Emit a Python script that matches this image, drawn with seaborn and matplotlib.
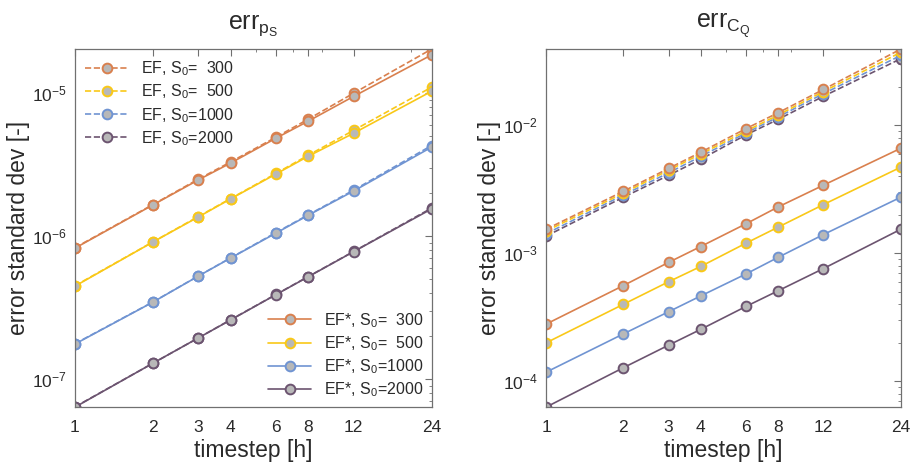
import matplotlib
matplotlib.use("Agg")
import matplotlib.pyplot as plt
from matplotlib.ticker import LogLocator, NullFormatter, FixedLocator, FixedFormatter
import numpy as np
import pandas as pd
import seaborn as sns

timesteps = [1, 2, 3, 4, 6, 8, 12, 24]
s0_values = [300, 500, 1000, 2000]
colors = ['#D9804E', '#F9C818', '#7094D2', '#6C5470']

# err_pS, rows are S0 = 300, 500, 1000, 2000
ps_ef = [
    [8.3e-7, 1.66e-6, 2.50e-6, 3.30e-6, 4.92e-6, 6.58e-6, 1.00e-5, 2.03e-5],
    [4.50e-7, 9.10e-7, 1.37e-6, 1.83e-6, 2.75e-6, 3.68e-6, 5.50e-6, 1.10e-5],
    [1.77e-7, 3.46e-7, 5.26e-7, 7.04e-7, 1.06e-6, 1.41e-6, 2.10e-6, 4.30e-6],
    [6.40e-8, 1.29e-7, 1.94e-7, 2.60e-7, 3.91e-7, 5.22e-7, 7.82e-7, 1.57e-6],
]
ps_efstar = [
    [8.24e-7, 1.65e-6, 2.47e-6, 3.24e-6, 4.84e-6, 6.37e-6, 9.50e-6, 1.85e-5],
    [4.47e-7, 9.08e-7, 1.36e-6, 1.82e-6, 2.72e-6, 3.62e-6, 5.25e-6, 1.03e-5],
    [1.76e-7, 3.45e-7, 5.25e-7, 7.02e-7, 1.05e-6, 1.40e-6, 2.07e-6, 4.19e-6],
    [6.37e-8, 1.29e-7, 1.94e-7, 2.59e-7, 3.90e-7, 5.20e-7, 7.80e-7, 1.55e-6],
]

# err_CQ
cq_ef = [
    [1.54e-3, 3.05e-3, 4.60e-3, 6.15e-3, 9.40e-3, 1.25e-2, 1.90e-2, 3.92e-2],
    [1.49e-3, 2.95e-3, 4.45e-3, 5.95e-3, 9.00e-3, 1.20e-2, 1.83e-2, 3.70e-2],
    [1.42e-3, 2.85e-3, 4.25e-3, 5.70e-3, 8.70e-3, 1.16e-2, 1.76e-2, 3.50e-2],
    [1.36e-3, 2.74e-3, 4.06e-3, 5.42e-3, 8.40e-3, 1.11e-2, 1.68e-2, 3.30e-2],
]
cq_efstar = [
    [2.80e-4, 5.60e-4, 8.50e-4, 1.13e-3, 1.70e-3, 2.30e-3, 3.40e-3, 6.60e-3],
    [2.00e-4, 4.00e-4, 6.00e-4, 7.90e-4, 1.20e-3, 1.60e-3, 2.40e-3, 4.70e-3],
    [1.18e-4, 2.35e-4, 3.50e-4, 4.65e-4, 6.90e-4, 9.30e-4, 1.40e-3, 2.74e-3],
    [6.30e-5, 1.28e-4, 1.92e-4, 2.55e-4, 3.85e-4, 5.10e-4, 7.60e-4, 1.54e-3],
]

sns.set_style("white")
plt.rcParams['font.family'] = ['Liberation Sans', 'DejaVu Sans']
plt.rcParams['mathtext.default'] = 'regular'

axis_gray = '#707070'
text_col = '#2a2a2a'
face_gray = '#B8B8B8'


def s0_label(method, s0):
    num = str(s0).rjust(4).replace(' ', '  ')
    return method + ', S$_0$=' + num


def draw_panel(ax, ef, efstar, title):
    ef_lines = {}
    star_lines = {}
    for data, method, ls, store in [(ef, 'EF', '--', ef_lines), (efstar, 'EF*', '-', star_lines)]:
        for i in reversed(range(len(s0_values))):
            df = pd.DataFrame({'t': timesteps, 'err': data[i]})
            sns.lineplot(data=df, x='t', y='err', ax=ax, color=colors[i],
                         linestyle=ls, linewidth=1.2, marker='o', markersize=7,
                         markerfacecolor=face_gray, markeredgecolor=colors[i],
                         markeredgewidth=1.4, legend=False,
                         label=s0_label(method, s0_values[i]))
            store[i] = ax.lines[-1]
    ax.set_xscale('log')
    ax.set_yscale('log')
    ax.set_xlim(1, 24)
    allv = np.concatenate([np.ravel(ef), np.ravel(efstar)])
    ax.set_ylim(allv.min(), allv.max())
    ax.xaxis.set_major_locator(FixedLocator(timesteps))
    ax.xaxis.set_major_formatter(FixedFormatter([str(t) for t in timesteps]))
    ax.xaxis.set_minor_locator(LogLocator(base=10, subs=np.arange(2, 10)))
    ax.xaxis.set_minor_formatter(NullFormatter())
    ax.yaxis.set_major_locator(LogLocator(base=10))
    ax.yaxis.set_minor_locator(LogLocator(base=10, subs=np.arange(2, 10)))
    ax.yaxis.set_minor_formatter(NullFormatter())
    ax.tick_params(which='both', direction='in', top=True, right=True,
                   color=axis_gray, labelcolor=text_col, labelsize=12.5)
    ax.tick_params(axis='x', which='major', pad=9)
    ax.tick_params(axis='y', which='major', pad=6)
    ax.tick_params(which='major', length=5, width=0.8)
    ax.tick_params(which='minor', length=2.5, width=0.6)
    for sp in ax.spines.values():
        sp.set_color(axis_gray)
        sp.set_linewidth(0.9)
    ax.set_xlabel('timestep [h]', fontsize=16.5, color=text_col, labelpad=3)
    ax.set_ylabel('error standard dev [-]', fontsize=16.5, color=text_col, labelpad=1)
    ax.set_title(title, fontsize=18, color=text_col, pad=15)
    return ef_lines, star_lines


fig = plt.figure(figsize=(9.12, 4.68), dpi=100)
ax1 = fig.add_axes([0.0822, 0.130, 0.391, 0.765])
ax2 = fig.add_axes([0.5987, 0.130, 0.389, 0.765])

ef_l, star_l = draw_panel(ax1, ps_ef, ps_efstar, 'err$_{p_S}$')
draw_panel(ax2, cq_ef, cq_efstar, 'err$_{C_Q}$')

leg1 = ax1.legend([ef_l[i] for i in range(4)], [s0_label('EF', s) for s in s0_values],
                  loc='upper left', frameon=False, fontsize=11.5, handlelength=2.7,
                  handletextpad=0.8, labelspacing=0.28, borderaxespad=0.25)
for t in leg1.get_texts():
    t.set_color(text_col)
ax1.add_artist(leg1)
leg2 = ax1.legend([star_l[i] for i in range(4)], [s0_label('EF*', s) for s in s0_values],
                  loc='lower right', frameon=False, fontsize=11.5, handlelength=2.7,
                  handletextpad=0.8, labelspacing=0.28, borderaxespad=0.1)
for t in leg2.get_texts():
    t.set_color(text_col)

fig.savefig('out.png', dpi=100)
